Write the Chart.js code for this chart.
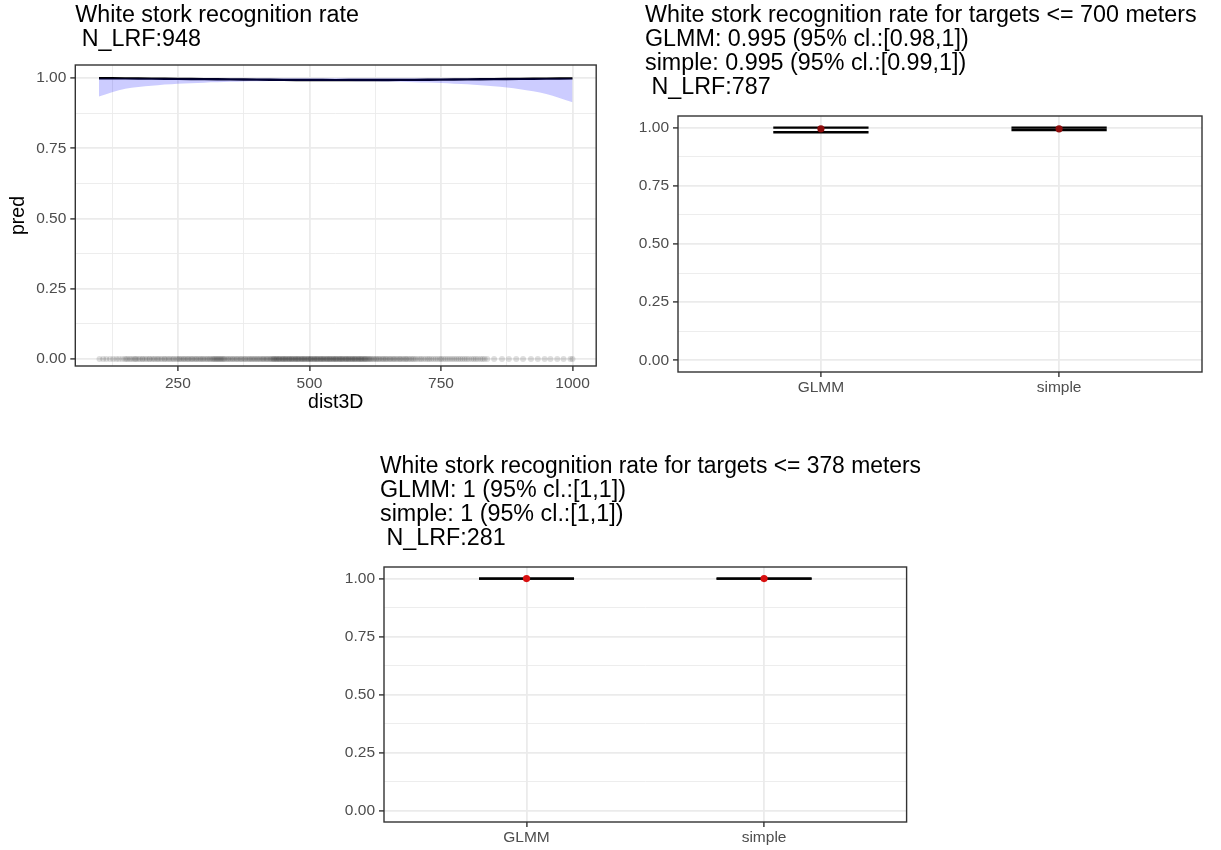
<!DOCTYPE html>
<html><head><meta charset="utf-8">
<script src="https://cdn.jsdelivr.net/npm/chart.js@4.4.0/dist/chart.umd.min.js"></script>
<style>
html,body{margin:0;padding:0;background:#fff;}
body{width:1221px;height:850px;position:relative;overflow:hidden;}
canvas{position:absolute;}
</style></head><body>
<canvas id="c1" width="615" height="416" style="left:0px;top:0px"></canvas>
<canvas id="c2" width="621" height="402" style="left:600px;top:0px"></canvas>
<canvas id="c3" width="621" height="410" style="left:300px;top:440px"></canvas>
<script>
// ---------- data ----------
const distX = [100,150,200,250,300,350,400,450,500,550,600,650,700,750,800,850,900,950,1000];
const predFit = [0.9998,0.9993,0.9986,0.9977,0.9967,0.9957,0.9948,0.9941,0.9936,0.9933,0.9934,0.9937,0.9942,0.9949,0.9957,0.9966,0.9975,0.9985,0.9994];
const predLower = [0.935,0.962,0.973,0.980,0.984,0.987,0.989,0.990,0.990,0.990,0.989,0.988,0.986,0.983,0.978,0.971,0.961,0.944,0.914];
const predUpper = [0.9999,0.9999,0.9999,0.9999,0.9999,0.9999,0.9999,0.9999,0.9999,0.9999,0.9999,0.9999,0.9999,0.9999,0.9999,0.9999,0.9999,0.9999,0.9999];
const rugDist = [101,108,114,121,127,133,138,144,149,
152,155,159,162,166,169,171,175,178,182,184,188,191,195,197,201,204,207,211,213,217,220,224,226,230,233,236,240,242,246,249,
252,254,257,260,262,265,268,270,273,276,278,281,284,286,289,292,294,297,299,302,305,307,310,312,315,317,319,321,323,325,327,329,331,333,335,337,339,342,345,347,350,353,355,358,361,363,366,369,371,374,377,379,382,385,387,390,392,395,397,400,402,405,407,410,412,414,417,419,421,424,426,428,
430,432,433,435,437,438,440,442,443,445,447,449,450,452,454,455,457,459,461,462,464,466,467,469,471,473,474,476,478,479,481,483,485,486,488,490,491,493,495,497,498,500,502,503,505,507,509,510,512,514,515,517,519,521,522,524,526,527,529,531,533,534,536,538,539,541,543,545,546,548,550,551,553,555,557,558,560,562,563,565,567,569,570,572,574,575,577,579,581,582,584,586,587,589,591,593,594,596,598,599,601,603,605,606,608,610,612,614,616,618,
621,623,626,628,631,633,636,639,641,644,646,649,652,654,657,660,662,665,668,671,673,676,679,682,684,687,690,693,696,699,
702,706,710,713,717,721,725,728,732,736,740,744,748,751,755,759,763,767,771,775,779,783,787,791,795,799,803,808,812,816,820,825,829,833,838,
851,866,879,893,906,921,934,947,958,971,983,996,1000];
const yTickValues = [0,0.25,0.5,0.75,1];
const yTickLabels = ['0.00','0.25','0.50','0.75','1.00'];
const xTickValues = [250,500,750,1000];
const xTickLabels = ['250','500','750','1000'];
const methods = ['GLMM','simple'];
const est700 = [0.995,0.995];
const lo700 = [0.98,0.99];
const hi700 = [1,1];
const est378 = [1,1];
const lo378 = [1,1];
const hi378 = [1,1];
const nLRF = [948,787,281];
const distLimits = [700,378];

// ---------- styling helpers ----------
const FONT = "'Liberation Sans', Arial, Helvetica, sans-serif";
const ERR_HALF = 0.2;
const TITLE_SIZE = 23.3;
const TITLE_LINE = 24;

function gridTicks(majors, min, max) {
  const step = majors[1] - majors[0];
  const all = [];
  for (let v = majors[0] - step / 2; v <= max + 1e-9; v += step / 2) { if (v >= min - 1e-9) all.push(v); }
  return all;
}
function makeScale(o) {
  const list = o.minor ? gridTicks(o.majors, o.min, o.max) : o.majors.slice();
  const isMaj = v => o.majors.some(m => Math.abs(m - v) < 1e-9);
  return {
    type: 'linear', position: o.position, min: o.min, max: o.max,
    afterBuildTicks: s => { s.ticks = list.map(v => ({ value: v })); },
    afterFit: s => {
      if (o.width != null) s.width = o.width;
      if (o.height != null) s.height = o.height;
      s._computeLabelArea = function () { return undefined; };
    },
    grid: {
      color: '#ebebeb',
      lineWidth: c => (c.tick && isMaj(c.tick.value)) ? 1.8 : 0.9,
      tickColor: c => (c.tick && isMaj(c.tick.value)) ? '#333333' : 'rgba(0,0,0,0)',
      tickLength: 5, tickWidth: 1.4, drawTicks: true
    },
    border: { display: false },
    ticks: {
      autoSkip: false, maxRotation: 0, minRotation: 0,
      padding: o.pad != null ? o.pad : (o.position === 'left' ? 4 : 1.7),
      color: '#4d4d4d', font: { family: FONT, size: 15.5 },
      callback: v => { const i = o.majors.findIndex(m => Math.abs(m - v) < 1e-9); return i >= 0 ? o.labels[i] : ''; }
    },
    title: o.title || { display: false }
  };
}
function padScale(w) {
  return { type: 'linear', axis: 'y', position: 'right', display: true,
    grid: { display: false, drawTicks: false }, border: { display: false },
    ticks: { display: false }, afterFit: s => { s.width = w; } };
}
const panelBorder = {
  id: 'panelBorder',
  afterDatasetsDraw(chart) {
    const { ctx, chartArea: a } = chart;
    ctx.save(); ctx.strokeStyle = '#333333'; ctx.lineWidth = 1.4;
    ctx.strokeRect(a.left, a.top, a.right - a.left, a.bottom - a.top);
    ctx.restore();
  }
};
function titleOpts(lines, fullSize, padTop, padBottom) {
  return { display: true, text: lines, align: 'start', fullSize: fullSize, color: '#000000',
    font: { family: FONT, size: TITLE_SIZE, weight: 'normal', lineHeight: TITLE_LINE / TITLE_SIZE },
    padding: { top: padTop, bottom: padBottom } };
}

// ---------- chart 1 ----------
new Chart(document.getElementById('c1'), {
  type: 'line',
  data: { datasets: [
    { label: 'upper', data: distX.map((x, i) => ({ x, y: predUpper[i] })), borderColor: 'rgba(0,0,0,0)', borderWidth: 1, pointRadius: 0, fill: false, order: 1, tension: 0.3, yAxisID: 'y' },
    { label: 'lower', data: distX.map((x, i) => ({ x, y: predLower[i] })), borderColor: 'rgba(0,0,0,0)', borderWidth: 1, pointRadius: 0, fill: 0, backgroundColor: 'rgba(0,0,255,0.2)', order: 1, tension: 0.3, yAxisID: 'y' },
    { label: 'pred', data: distX.map((x, i) => ({ x, y: predFit[i] })), borderColor: '#000000', borderWidth: 2.4, pointRadius: 0, fill: false, order: 2, tension: 0.3, yAxisID: 'y' },
    { label: 'obs', data: rugDist.map(x => ({ x, y: 0 })), showLine: false, pointRadius: 3, pointBackgroundColor: 'rgba(0,0,0,0.13)', pointBorderWidth: 0, borderColor: 'rgba(0,0,0,0)', order: 3, yAxisID: 'y' }
  ]},
  options: {
    responsive: false, animation: false, devicePixelRatio: 1,
    layout: { padding: { left: 0, right: 18.8, top: 0, bottom: 0 } },
    plugins: { legend: { display: false }, tooltip: { enabled: false },
      title: titleOpts(['White stork recognition rate', ' N_LRF:' + nLRF[0]], false, 4, 13) },
    scales: {
      x: makeScale({ min: 55, max: 1045, majors: xTickValues, labels: xTickLabels, minor: true, position: 'bottom', height: 50, pad: 3.7,
        title: { display: true, text: 'dist3D', color: '#000', font: { family: FONT, size: 19.5 }, padding: { top: 0, bottom: 1.3 } } }),
      y: makeScale({ min: -0.025, max: 1.047, majors: yTickValues, labels: yTickLabels, minor: true, position: 'left', width: 75.3,
        title: { display: true, text: 'pred', color: '#000', font: { family: FONT, size: 19.5 }, padding: { top: 6.8, bottom: 0 } } })
    }
  },
  plugins: [panelBorder]
});

// ---------- categorical charts ----------
function catChart(id, est, lo, hi, ptColor, lines, padLeft, yW, rightW, xH, padTop, padBottom) {
  const ds = [];
  methods.forEach((m, i) => {
    const c = i + 1;
    const seg = (pts) => ({ label: m, data: pts, borderColor: '#000000', borderWidth: 2.4, pointRadius: 0, fill: false, order: 2, borderCapStyle: 'butt', yAxisID: 'y' });
    ds.push(seg([{ x: c - ERR_HALF, y: hi[i] }, { x: c + ERR_HALF, y: hi[i] }]));
    ds.push(seg([{ x: c - ERR_HALF, y: lo[i] }, { x: c + ERR_HALF, y: lo[i] }]));
    ds.push(seg([{ x: c, y: lo[i] }, { x: c, y: hi[i] }]));
  });
  ds.push({ label: 'estimate', data: methods.map((m, i) => ({ x: i + 1, y: est[i] })), showLine: false, pointRadius: 3.6,
    pointBackgroundColor: ptColor, pointBorderWidth: 0, borderColor: 'rgba(0,0,0,0)', order: 1, yAxisID: 'y' });
  new Chart(document.getElementById(id), {
    type: 'line',
    data: { datasets: ds },
    options: {
      responsive: false, animation: false, devicePixelRatio: 1,
      layout: { padding: { left: padLeft, right: 0, top: 0, bottom: 0 } },
      plugins: { legend: { display: false }, tooltip: { enabled: false }, title: titleOpts(lines, true, padTop, padBottom) },
      scales: {
        x: makeScale({ min: 0.4, max: 2.6, majors: [1, 2], labels: methods, minor: false, position: 'bottom', height: xH }),
        y: makeScale({ min: -0.05, max: 1.05, majors: yTickValues, labels: yTickLabels, minor: true, position: 'left', width: yW }),
        yPad: padScale(rightW)
      }
    },
    plugins: [panelBorder]
  });
}
function ciLines(limit, est, lo, hi, n) {
  return ['White stork recognition rate for targets <= ' + limit + ' meters',
    methods[0] + ': ' + est[0] + ' (95% cl.:[' + lo[0] + ',' + hi[0] + '])',
    methods[1] + ': ' + est[1] + ' (95% cl.:[' + lo[1] + ',' + hi[1] + '])',
    ' N_LRF:' + n];
}
catChart('c2', est700, lo700, hi700, '#8e0c0c', ciLines(distLimits[0], est700, lo700, hi700, nLRF[1]), 45, 33, 19, 30, 4, 16);
catChart('c3', est378, lo378, hi378, '#d81010', ciLines(distLimits[1], est378, lo378, hi378, nLRF[2]), 80, 4, 14.4, 28, 15, 16);
</script>
</body></html>
